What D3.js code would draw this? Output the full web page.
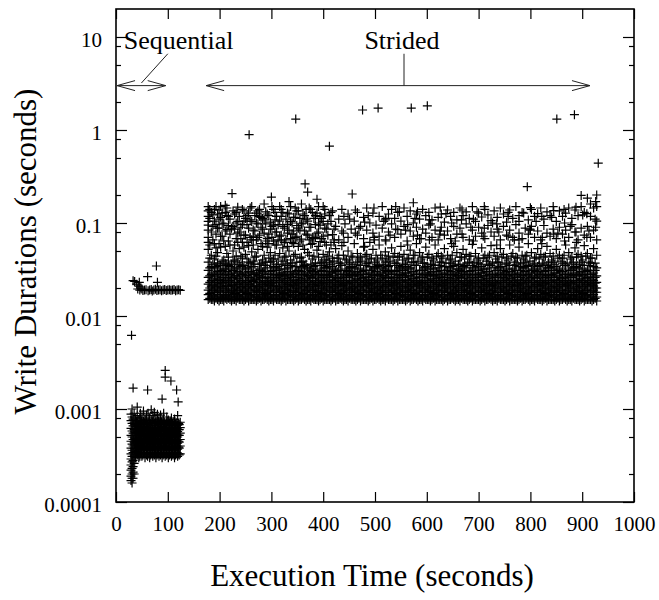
<!DOCTYPE html>
<html>
<head>
<meta charset="utf-8">
<script src="https://cdn.jsdelivr.net/npm/d3@7"></script>
<style>
    body { margin: 0; background: #fff; }
    svg text { font-family: "Liberation Serif", "Times New Roman", serif; fill: #000; }
</style>
</head>
<body>
<div id="chart"></div>
<script>
// write durations are stored in milliseconds, "time: d1 d2 d3 ..." (time in seconds)
var seqFastWrites = [
    "29: 0.17 0.19 0.22 0.25 0.29 0.33 0.38 0.45 0.52 0.62 0.75 0.88",
    "31: 0.16 0.18 0.2 0.23 0.27 0.31 0.36 0.42 0.5 0.58 0.7 0.82 1.0",
    "33: 0.18 0.21 0.24 0.28 0.34 0.4 0.47 0.55 0.66 0.78 1.68",
    "35: 0.2 0.26 0.32 0.38 0.44 0.52 0.6 0.72 0.9",
    "37: 0.32 0.37 0.43 0.5 0.58 0.68",
    "38: 0.3 0.35 0.41 0.48 0.56 0.65 0.8",
    "40: 0.34 0.4 0.46 0.54 0.62 0.74",
    "41: 0.32 0.38 0.44 0.5 0.58 0.7 0.85 1.05",
    "43: 0.33 0.39 0.45 0.52 0.6 0.68",
    "44: 0.3 0.36 0.42 0.47 0.55 0.63 0.76",
    "46: 0.31 0.37 0.43 0.5 0.57 0.66 0.8",
    "47: 0.33 0.39 0.45 0.52 0.6 0.72 0.9",
    "49: 0.34 0.4 0.47 0.54 0.63 0.74",
    "50: 0.31 0.37 0.43 0.49 0.57 0.68 0.82",
    "52: 0.32 0.38 0.44 0.51 0.59 0.7",
    "53: 0.34 0.4 0.46 0.53 0.62 0.74 0.95",
    "55: 0.33 0.39 0.45 0.52 0.6 0.71",
    "56: 0.3 0.36 0.42 0.48 0.55 0.65 0.78",
    "58: 0.34 0.4 0.47 0.54 0.63 0.76",
    "59: 0.32 0.38 0.44 0.51 0.59 0.7 0.86",
    "61: 0.31 0.37 0.43 0.5 0.58 0.68 1.6",
    "62: 0.33 0.39 0.45 0.52 0.6 0.72 0.9",
    "64: 0.34 0.4 0.46 0.54 0.62 0.74",
    "65: 0.3 0.36 0.42 0.49 0.56 0.66 0.8",
    "67: 0.32 0.38 0.44 0.51 0.59 0.7",
    "68: 0.34 0.4 0.46 0.53 0.62 0.75 0.98",
    "70: 0.33 0.39 0.45 0.52 0.6 0.72",
    "71: 0.31 0.37 0.43 0.5 0.58 0.7 0.85",
    "73: 0.34 0.4 0.47 0.54 0.63 0.76",
    "74: 0.32 0.38 0.45 0.51 0.6 0.7 0.92",
    "76: 0.33 0.39 0.44 0.52 0.61 0.71",
    "77: 0.3 0.36 0.42 0.48 0.56 0.67 0.8",
    "79: 0.32 0.38 0.45 0.53 0.6 0.7",
    "80: 0.33 0.39 0.46 0.53 0.61 0.73 0.88",
    "82: 0.34 0.4 0.46 0.54 0.63 0.74",
    "83: 0.31 0.37 0.43 0.5 0.57 0.68 0.78",
    "85: 0.33 0.39 0.45 0.51 0.59 0.7",
    "86: 0.32 0.38 0.44 0.52 0.6 0.72 0.86",
    "88: 0.34 0.4 0.47 0.54 0.62 0.73",
    "89: 0.3 0.36 0.42 0.48 0.55 0.65 0.75 1.28",
    "91: 0.32 0.38 0.44 0.51 0.59 0.69",
    "92: 0.33 0.39 0.45 0.53 0.62 0.74 0.9",
    "94: 0.34 0.4 0.46 0.53 0.61 0.72",
    "95: 0.31 0.37 0.43 0.49 0.57 0.68 2.6 2.2",
    "97: 0.33 0.39 0.45 0.52 0.6 0.71",
    "98: 0.32 0.38 0.45 0.51 0.59 0.7 0.82",
    "100: 0.34 0.4 0.47 0.54 0.63 0.74",
    "101: 0.3 0.36 0.42 0.48 0.56 0.66 0.76",
    "103: 0.32 0.38 0.44 0.51 0.59 0.7",
    "104: 0.33 0.39 0.46 0.53 0.61 0.72",
    "106: 0.34 0.4 0.46 0.54 0.62 0.73 2.0",
    "107: 0.31 0.37 0.43 0.5 0.58 0.68 0.8",
    "109: 0.33 0.39 0.45 0.52 0.6 0.7",
    "110: 0.32 0.38 0.44 0.52 0.6 0.7",
    "112: 0.34 0.4 0.47 0.54 0.63 0.74",
    "113: 0.3 0.36 0.42 0.49 0.56 0.66 0.78",
    "115: 0.32 0.38 0.45 0.51 0.59 0.69",
    "116: 0.33 0.39 0.45 0.51 0.6 0.7",
    "117: 1.6",
    "118: 0.34 0.4 0.46 0.53 0.62 0.72",
    "119: 0.31 0.37 0.43 0.5 0.57 0.67 0.85",
    "120: 1.19",
    "121: 0.33 0.39 0.45 0.52 0.6 0.7",
    "122: 0.32 0.38 0.44 0.52 0.6 0.68",
    "124: 0.33 0.4 0.47 0.55 0.63 0.72"
];

var seqSlowWrites = [
    "30: 6.2", "33: 24", "36: 23.5", "40: 22", "42: 19.5", "44: 21", "45: 23", "46: 19",
    "48: 20", "50: 19.5", "52: 18.8", "55: 19", "58: 19.2", "61: 26.5", "62: 18.7",
    "65: 19", "68: 19.3", "70: 18.6", "73: 19", "76: 19.4", "78: 34.5", "79: 18.8",
    "80: 23", "82: 19", "85: 19.2", "88: 18.7", "91: 19", "94: 19.3", "97: 18.8",
    "100: 19", "103: 19.2", "106: 18.9", "109: 19", "112: 19.3", "115: 18.7",
    "118: 19", "121: 19.2", "124: 18.9"
];

var stridedWrites = [
    "178: 15 17 19 22 26 31 38 52 70 95 118 150",
    "184: 15 16 18 21 24 28 34 45 80 130",
    "190: 14.5 16 18 20 23 27 33 41 60 105 140",
    "196: 15 17 19 22 25 30 37 48 88 125",
    "202: 15 16 18 21 24 29 35 55 72 115 150",
    "208: 14.5 16 17 20 23 26 32 40 64 98",
    "214: 15 17 19 21 25 30 36 47 85 120 145",
    "220: 15 16 18 22 24 28 34 58 76 110",
    "226: 15 17 19 21 26 31 39 50 92 135",
    "232: 14.5 16 18 20 23 27 33 44 68 100 130",
    "238: 15 16 19 22 25 29 36 53 80 118",
    "244: 15 17 18 21 24 28 35 42 62 96 140",
    "250: 15 16 18 20 23 27 32 46 74 112",
    "256: 14.5 17 19 22 26 30 38 57 88 128",
    "262: 15 16 18 21 24 29 34 49 66 104 150",
    "268: 15 17 19 21 25 28 36 43 82 120",
    "274: 15 16 18 20 23 27 31 52 70 98 135",
    "280: 14.5 16 19 22 26 31 37 60 90 115",
    "286: 15 17 18 21 24 29 35 45 78 108 160",
    "292: 15 16 18 20 23 26 33 55 68 125",
    "298: 15 17 19 22 25 30 38 48 86 102",
    "304: 14.5 16 18 21 24 28 34 41 64 95 140",
    "310: 15 17 19 21 26 31 36 58 80 118",
    "316: 15 16 18 20 23 27 32 47 72 105 150",
    "322: 15 17 18 22 25 29 39 54 92 130",
    "328: 14.5 16 19 21 24 28 35 44 66 110",
    "334: 15 17 18 20 23 27 33 50 84 125 170",
    "340: 15 16 19 22 26 30 37 62 76 100",
    "346: 15 17 18 21 24 29 34 46 70 115 145",
    "352: 14.5 16 18 20 23 26 31 56 88 135",
    "358: 15 17 19 22 25 30 38 43 67 98 160",
    "364: 15 16 18 21 24 28 35 52 82 120",
    "370: 15 17 19 20 23 27 33 48 74 105 215",
    "376: 14.5 16 18 22 26 31 36 59 90 140",
    "382: 15 17 19 21 24 29 34 44 68 112",
    "388: 15 16 18 20 23 27 32 51 78 128 180",
    "394: 15 17 18 22 25 30 37 63 95 118",
    "400: 14.5 16 19 21 24 28 35 46 72 104 150",
    "406: 15 17 18 20 23 27 33 40 58 86",
    "412: 15 16 19 22 26 30 38 49 120",
    "418: 15 17 18 21 24 29 34 42 75 135",
    "424: 14.5 16 18 20 23 26 31 53 92",
    "430: 15 17 19 22 25 31 37 45 66 110",
    "436: 15 16 18 21 24 28 35 57 82 140",
    "442: 15 17 19 20 23 27 32 41 98",
    "448: 14.5 16 18 22 26 30 36 50 70 125",
    "454: 15 17 19 21 24 29 34 44 86",
    "460: 15 16 18 20 23 27 33 60 105",
    "466: 15 17 18 22 25 30 38 47 74 130",
    "472: 14.5 16 19 21 24 28 35 43 92",
    "478: 15 17 18 20 23 26 31 55 68 115",
    "484: 15 16 19 22 26 31 37 46 84 145",
    "490: 15 17 18 21 24 29 34 41 62 100",
    "496: 14.5 16 18 20 23 27 32 52 78 128",
    "502: 15 17 19 22 25 30 36 45 95",
    "508: 15 16 18 21 24 28 35 58 72 118",
    "514: 15 17 19 20 23 27 33 42 88 150",
    "520: 14.5 16 18 22 26 31 38 49 66 108",
    "526: 15 17 18 21 24 29 34 44 80 125",
    "532: 15 16 19 20 23 26 31 54 98 140",
    "538: 15 17 18 22 25 30 37 47 70 112",
    "544: 14.5 16 19 21 24 28 35 43 85 130",
    "550: 15 17 18 20 23 27 32 56 76 105",
    "556: 15 16 18 22 26 31 36 46 92 145",
    "562: 15 17 19 21 24 29 34 41 64 118",
    "568: 14.5 16 18 20 23 27 33 51 82 135",
    "574: 15 17 19 22 25 30 38 45 72 100 165",
    "580: 15 16 18 21 24 28 35 60 90 125",
    "586: 15 17 18 20 23 26 31 48 68 110",
    "592: 14.5 16 19 22 26 31 37 43 86 140",
    "598: 15 17 18 21 24 29 34 55 78 120",
    "604: 15 16 19 20 23 27 32 46 95 130",
    "610: 15 17 18 22 25 30 36 42 70 108",
    "616: 14.5 16 18 21 24 28 35 58 84 145",
    "622: 15 17 19 20 23 27 33 47 66 115",
    "628: 15 16 18 22 26 31 38 44 90 125",
    "634: 15 17 19 21 24 29 34 53 74 102",
    "640: 14.5 16 18 20 23 26 31 45 82 138",
    "646: 15 17 18 22 25 30 37 41 68 118",
    "652: 15 16 19 21 24 28 35 56 92 130",
    "658: 15 17 18 20 23 27 32 48 76 108",
    "664: 14.5 16 18 22 26 31 36 43 88 145",
    "670: 15 17 19 21 24 29 34 52 70 120",
    "676: 15 16 18 20 23 27 33 46 98 132",
    "682: 15 17 19 22 25 30 38 44 66 112",
    "688: 14.5 16 18 21 24 28 35 59 84 150",
    "694: 15 17 18 20 23 26 31 47 72 104",
    "700: 15 16 19 22 26 31 37 42 90 128",
    "706: 15 17 18 21 24 29 34 54 78 116",
    "712: 14.5 16 18 20 23 27 32 45 68 140",
    "718: 15 17 19 22 25 30 36 43 94 122",
    "724: 15 16 18 21 24 28 35 57 80 106",
    "730: 15 17 19 20 23 27 33 48 72 135",
    "736: 14.5 16 18 22 26 31 38 44 86 115",
    "742: 15 17 18 21 24 29 34 53 66 145",
    "748: 15 16 19 20 23 26 31 46 92 125",
    "754: 15 17 18 22 25 30 37 42 74 102",
    "760: 14.5 16 18 21 24 28 35 58 84 138",
    "766: 15 17 19 20 23 27 32 47 70 112",
    "772: 15 16 18 22 26 31 36 43 96 150",
    "778: 15 17 19 21 24 29 34 55 78 120",
    "784: 14.5 16 18 20 23 27 33 45 68 130",
    "790: 15 17 18 22 25 30 38 44 88",
    "796: 15 16 19 21 24 28 35 60 76 108",
    "802: 15 17 18 20 23 26 31 48 92 140",
    "808: 14.5 16 18 22 26 31 37 42 70 118",
    "814: 15 17 19 21 24 29 34 53 82 126",
    "820: 15 16 18 20 23 27 32 46 66 145",
    "826: 15 17 19 22 25 30 36 43 94 110",
    "832: 14.5 16 18 21 24 28 35 56 78 132",
    "838: 15 17 18 20 23 27 33 47 72 120",
    "844: 15 16 19 22 26 31 38 44 86 150",
    "850: 15 17 18 21 24 29 34 52 68 104",
    "856: 14.5 16 18 20 23 26 31 45 90 135",
    "862: 15 17 19 22 25 30 37 42 76 118",
    "868: 15 16 18 21 24 28 35 58 84 128",
    "874: 15 17 19 20 23 27 32 48 70 145",
    "880: 14.5 16 18 22 26 31 36 43 96 112",
    "886: 15 17 18 21 24 29 34 54 80 138",
    "892: 15 16 19 20 23 27 33 46 66 120",
    "898: 15 17 18 22 25 30 38 44 88 150 198",
    "904: 14.5 16 18 21 24 28 35 57 74 130",
    "910: 15 17 19 20 23 26 31 47 92 185",
    "916: 15 16 18 22 26 31 37 42 70 118 160",
    "922: 15 17 19 21 24 29 34 53 84 145",
    "928: 14.5 16 18 20 23 27 33 45 66 105 150 200"
];

// in-between writes of the strided phase, mostly in the dense 15-40 ms band
var stridedFill = [
    "181: 15.5 17.5 20 23 27 33 42 112", "187: 15 16.5 19 21.5 25 29 36",
    "193: 15.5 18 20.5 24 28 34 44 96", "199: 14.5 16 18.5 21 24.5 28 35",
    "205: 15 17 20 22.5 26 31 39 128", "211: 15.5 16.5 19.5 23 27.5 32 37",
    "217: 15.5 18 21 24 28 35 43", "223: 14.5 16 18.5 21.5 25 29 36 88",
    "229: 15 17.5 20 23 27 32 40", "235: 15.5 16.5 19 22 25.5 30 38 62",
    "241: 15 18 20.5 24 28 34 44", "247: 14.5 16 18.5 21 24 29 35 105",
    "253: 15.5 17.5 20 23 27.5 33 41", "259: 15 16.5 19.5 22 25 30 37",
    "265: 15 17 20.5 23.5 28 34 39 72", "271: 14.5 16 18.5 21 24.5 29 44",
    "277: 15.5 18 20 23 27 32 36 118", "283: 15 16.5 19 22 25.5 30 40",
    "289: 15.5 17.5 21 24 28 35 38", "295: 14.5 16 18.5 21.5 24 28 42 76",
    "301: 15 17 20 22.5 26 31 39", "307: 15.5 16.5 19.5 23 27.5 33 45 130",
    "313: 15 18 20.5 24 28 34 41", "319: 14.5 16 18.5 21 25 29 36 64",
    "325: 15.5 17.5 20 23 27 32 43", "331: 15 16.5 19 22 25.5 30 37 96",
    "337: 15 17 21 24 28 35 40", "343: 14.5 16 18.5 21.5 24.5 28 44 82",
    "349: 15.5 18 20 22.5 26 31 38", "355: 15 16.5 19.5 23 27.5 33 42 112",
    "361: 15.5 17.5 20.5 24 28 34 39", "367: 14.5 16 18.5 21 25 29 36 140",
    "373: 15 17 20 23 27 32 45", "379: 15.5 16.5 19 22 25.5 30 41 70",
    "385: 15 18 21 24 28 35 37", "391: 14.5 16 18.5 21.5 24 28 43 100",
    "397: 15.5 17.5 20 22.5 26 31 38", "403: 15 16.5 19.5 23 27.5 33 40 125",
    "409: 15 17 20.5 24 28 34 44", "415: 14.5 16 18.5 21 24.5 29 36",
    "421: 15.5 18 20 23 27 32 39 62", "427: 15 16.5 19 22 25.5 30 42",
    "433: 15.5 17.5 21 24 28 35 37", "439: 14.5 16 18.5 21.5 24 28 45 78",
    "445: 15 17 20 22.5 26 31 40", "451: 15.5 16.5 19.5 23 27.5 33 38 110",
    "457: 15 18 20.5 24 28 34 43", "463: 14.5 16 18.5 21 25 29 36",
    "469: 15.5 17.5 20 23 27 32 41 88", "475: 15 16.5 19 22 25.5 30 39",
    "481: 15 17 21 24 28 35 44", "487: 14.5 16 18.5 21.5 24.5 28 37 120",
    "493: 15.5 18 20 22.5 26 31 42", "499: 15 16.5 19.5 23 27.5 33 38 66",
    "505: 15.5 17.5 20.5 24 28 34 40", "511: 14.5 16 18.5 21 25 29 45",
    "517: 15 17 20 23 27 32 36 104", "523: 15.5 16.5 19 22 25.5 30 41",
    "529: 15 18 21 24 28 35 39 74", "535: 14.5 16 18.5 21.5 24 28 43",
    "541: 15.5 17.5 20 22.5 26 31 37", "547: 15 16.5 19.5 23 27.5 33 44 132",
    "553: 15 17 20.5 24 28 34 40", "559: 14.5 16 18.5 21 24.5 29 36 84",
    "565: 15.5 18 20 23 27 32 42", "571: 15 16.5 19 22 25.5 30 38",
    "577: 15.5 17.5 21 24 28 35 45 112", "583: 14.5 16 18.5 21.5 24 28 39",
    "589: 15 17 20 22.5 26 31 41 68", "595: 15.5 16.5 19.5 23 27.5 33 37",
    "601: 15 18 20.5 24 28 34 43", "607: 14.5 16 18.5 21 25 29 36 98",
    "613: 15.5 17.5 20 23 27 32 40", "619: 15 16.5 19 22 25.5 30 44",
    "625: 15 17 21 24 28 35 38 76", "631: 14.5 16 18.5 21.5 24.5 28 42",
    "637: 15.5 18 20 22.5 26 31 37 126", "643: 15 16.5 19.5 23 27.5 33 40",
    "649: 15.5 17.5 20.5 24 28 34 45", "655: 14.5 16 18.5 21 25 29 39 64",
    "661: 15 17 20 23 27 32 36", "667: 15.5 16.5 19 22 25.5 30 43 108",
    "673: 15 18 21 24 28 35 41", "679: 14.5 16 18.5 21.5 24 28 37",
    "685: 15.5 17.5 20 22.5 26 31 44 90", "691: 15 16.5 19.5 23 27.5 33 38",
    "697: 15 17 20.5 24 28 34 40 132", "703: 14.5 16 18.5 21 24.5 29 36",
    "709: 15.5 18 20 23 27 32 42 72", "715: 15 16.5 19 22 25.5 30 39",
    "721: 15.5 17.5 21 24 28 35 45", "727: 14.5 16 18.5 21.5 24 28 37 100",
    "733: 15 17 20 22.5 26 31 41", "739: 15.5 16.5 19.5 23 27.5 33 38 80",
    "745: 15 18 20.5 24 28 34 43", "751: 14.5 16 18.5 21 25 29 36",
    "757: 15.5 17.5 20 23 27 32 40 118", "763: 15 16.5 19 22 25.5 30 44",
    "769: 15 17 21 24 28 35 38 66", "775: 14.5 16 18.5 21.5 24.5 28 42",
    "781: 15.5 18 20 22.5 26 31 37", "787: 15 16.5 19.5 23 27.5 33 40 128",
    "793: 15.5 17.5 20.5 24 28 34 45", "799: 14.5 16 18.5 21 25 29 39 86",
    "805: 15 17 20 23 27 32 36", "811: 15.5 16.5 19 22 25.5 30 43 104",
    "817: 15 18 21 24 28 35 41", "823: 14.5 16 18.5 21.5 24 28 37 70",
    "829: 15.5 17.5 20 22.5 26 31 44", "835: 15 16.5 19.5 23 27.5 33 38",
    "841: 15 17 20.5 24 28 34 40 115", "847: 14.5 16 18.5 21 24.5 29 36",
    "853: 15.5 18 20 23 27 32 42 78", "859: 15 16.5 19 22 25.5 30 39",
    "865: 15.5 17.5 21 24 28 35 45 140", "871: 14.5 16 18.5 21.5 24 28 37",
    "877: 15 17 20 22.5 26 31 41 92", "883: 15.5 16.5 19.5 23 27.5 33 38",
    "889: 15 18 20.5 24 28 34 43 62", "895: 14.5 16 18.5 21 25 29 36",
    "901: 15.5 17.5 20 23 27 32 40 122", "907: 15 16.5 19 22 25.5 30 44",
    "913: 15 17 21 24 28 35 38 82", "919: 14.5 16 18.5 21.5 24.5 28 42",
    "925: 15.5 18 20 22.5 26 31 37 110"
];

// slower strided writes (50-170 ms), thickest early in the run
var stridedSlowWrites = [
    "178: 62 84 104 135", "181: 58 140", "187: 66 92 122", "193: 54 76 150",
    "199: 60 88 110 138", "205: 72 100", "211: 56 82 130 155", "217: 64 94 118",
    "229: 58 86 125", "235: 78 104 148", "241: 68 90", "247: 55 74 135",
    "253: 62 96 120", "259: 70 108 145", "265: 58 84", "271: 66 100 128",
    "277: 74 140", "283: 56 86 112", "289: 64 98 132", "295: 60 120",
    "301: 70 92 150", "307: 58 80 108", "313: 66 96", "319: 74 118 140",
    "325: 62 88", "331: 56 78 128", "337: 68 104 150", "343: 60 115",
    "349: 72 94 135", "355: 64 84", "361: 58 100 125", "367: 76 110",
    "373: 66 90 145", "379: 60 130", "385: 70 96 120", "391: 56 80 150",
    "397: 68 112", "403: 62 88 140", "409: 74 98", "415: 58 104 130", "421: 66 86",
    "440: 62 118", "462: 78 138", "480: 56 102", "498: 70 145", "521: 64 112",
    "540: 86 150", "563: 58 96", "582: 74 132", "605: 66 108", "626: 82 148",
    "648: 60 100", "668: 76 138", "690: 64 110", "711: 88 150", "735: 58 98",
    "757: 72 130", "778: 66 104", "800: 84 146", "822: 60 118", "845: 76 136",
    "866: 64 100", "888: 80 148", "909: 70 126", "926: 90 170"
];

var stridedOutliers = [
    "224: 207", "257: 890", "300: 190", "347: 1310", "365: 263", "412: 670",
    "456: 205", "476: 1640", "506: 1720", "570: 1720", "601: 1820", "794: 246",
    "851: 1310", "885: 1460", "931: 440"
];

var xTicks = [0, 100, 200, 300, 400, 500, 600, 700, 800, 900, 1000];
var yTicks = [0.0001, 0.001, 0.01, 0.1, 1, 10];
var yTickLabels = ["0.0001", "0.001", "0.01", "0.1", "1", "10"];
var yMinorSteps = [2, 5, 8];

// phase annotations (data units)
var seqSpan = [2, 96];
var stridedSpan = [174, 915];
var arrowLevel = 3;

function expandRows(rows) {
    var out = [];
    rows.forEach(function(row) {
        var parts = row.split(":");
        var t = +parts[0];
        parts[1].trim().split(/\s+/).forEach(function(v) {
            out.push({ t: t, sec: +v / 1000 });
        });
    });
    return out;
}

var points = expandRows(seqFastWrites)
    .concat(expandRows(seqSlowWrites))
    .concat(expandRows(stridedWrites))
    .concat(expandRows(stridedFill))
    .concat(expandRows(stridedSlowWrites))
    .concat(expandRows(stridedOutliers));

var margin = { top: 9, right: 25, bottom: 98, left: 116 },
    width = 659 - margin.left - margin.right,
    height = 600 - margin.top - margin.bottom;

var fontFamily = '"Liberation Serif", "Times New Roman", serif';

var svg = d3.select("#chart").append("svg")
    .attr("width", 659)
    .attr("height", 600);

var g = svg.append("g")
    .attr("transform", "translate(" + margin.left + "," + margin.top + ")");

var xScale = d3.scaleLinear().domain([0, 1000]).range([0, width]);
var yScale = d3.scaleLog().domain([1e-4, 20]).range([height, 0]);

var yMinor = [];
yTicks.forEach(function(d) {
    yMinorSteps.forEach(function(m) {
        if (d * m < 20) yMinor.push(d * m);
    });
});

function styleAxis(sel) {
    sel.select(".domain").remove();
    sel.attr("font-family", fontFamily).attr("font-size", 21);
    sel.selectAll("line").attr("stroke", "#000").attr("stroke-width", 1.2);
}

// bottom axis with labels
g.append("g")
    .attr("transform", "translate(0," + height + ")")
    .call(d3.axisBottom(xScale).tickValues(xTicks).tickSizeInner(-10).tickSizeOuter(0).tickPadding(14)
        .tickFormat(d3.format("d")))
    .call(styleAxis);

// top axis, ticks only
g.append("g")
    .call(d3.axisTop(xScale).tickValues(xTicks).tickSizeInner(-10).tickSizeOuter(0).tickFormat(""))
    .call(styleAxis);

// left axis
g.append("g")
    .call(d3.axisLeft(yScale).tickValues(yTicks).tickSizeInner(-11).tickSizeOuter(0).tickPadding(14)
        .tickFormat(function(d, i) { return yTickLabels[i]; }))
    .call(styleAxis)
    .selectAll("text").attr("dy", "0.45em");

g.append("g")
    .call(d3.axisLeft(yScale).tickValues(yMinor).tickSizeInner(-5).tickSizeOuter(0).tickFormat(""))
    .call(styleAxis);

// right axis
g.append("g")
    .attr("transform", "translate(" + width + ",0)")
    .call(d3.axisRight(yScale).tickValues(yTicks).tickSizeInner(-11).tickSizeOuter(0).tickFormat(""))
    .call(styleAxis);

g.append("g")
    .attr("transform", "translate(" + width + ",0)")
    .call(d3.axisRight(yScale).tickValues(yMinor).tickSizeInner(-5).tickSizeOuter(0).tickFormat(""))
    .call(styleAxis);

// frame
g.append("rect")
    .attr("width", width)
    .attr("height", height)
    .attr("fill", "none")
    .attr("stroke", "#000")
    .attr("stroke-width", 1.6);

// write markers
g.append("g")
    .selectAll("path")
    .data(points)
    .enter()
    .append("path")
    .attr("d", "M-4.5,0H4.5M0,-4.5V4.5")
    .attr("transform", function(d) {
        return "translate(" + xScale(d.t) + "," + yScale(d.sec) + ")";
    })
    .attr("fill", "none")
    .attr("stroke", "#000")
    .attr("stroke-width", 1.2);

// double arrows marking each phase
function drawSpan(span) {
    var yy = yScale(arrowLevel),
        x1 = xScale(span[0]),
        x2 = xScale(span[1]);
    var arrow = g.append("g").attr("stroke", "#222").attr("stroke-width", 1).attr("fill", "none");
    arrow.append("line").attr("x1", x1).attr("x2", x2).attr("y1", yy).attr("y2", yy);
    arrow.append("path").attr("d", "M" + (x1 + 18) + "," + (yy - 5) + "L" + x1 + "," + yy + "L" + (x1 + 18) + "," + (yy + 5));
    arrow.append("path").attr("d", "M" + (x2 - 18) + "," + (yy - 5) + "L" + x2 + "," + yy + "L" + (x2 - 18) + "," + (yy + 5));
    return arrow;
}

drawSpan(seqSpan);
drawSpan(stridedSpan);

// leader from "Sequential" label down to its arrow
g.append("line")
    .attr("x1", xScale(100)).attr("y1", yScale(6.6))
    .attr("x2", xScale(49)).attr("y2", yScale(3.2))
    .attr("stroke", "#222").attr("stroke-width", 1);

// short stem under "Strided"
g.append("line")
    .attr("x1", xScale(556)).attr("y1", yScale(6.6))
    .attr("x2", xScale(556)).attr("y2", yScale(arrowLevel))
    .attr("stroke", "#222").attr("stroke-width", 1);

g.append("text")
    .attr("x", xScale(15))
    .attr("y", yScale(7.4))
    .attr("font-size", 26)
    .text("Sequential");

g.append("text")
    .attr("x", xScale(552))
    .attr("y", yScale(7.4))
    .attr("text-anchor", "middle")
    .attr("font-size", 26)
    .text("Strided");

// axis titles
svg.append("text")
    .attr("x", margin.left + width / 2 - 3)
    .attr("y", 586)
    .attr("text-anchor", "middle")
    .attr("font-size", 31)
    .text("Execution Time (seconds)");

svg.append("text")
    .attr("transform", "translate(36," + (margin.top + height / 2 - 4) + ") rotate(-90)")
    .attr("text-anchor", "middle")
    .attr("font-size", 31)
    .text("Write Durations (seconds)");
</script>
</body>
</html>
